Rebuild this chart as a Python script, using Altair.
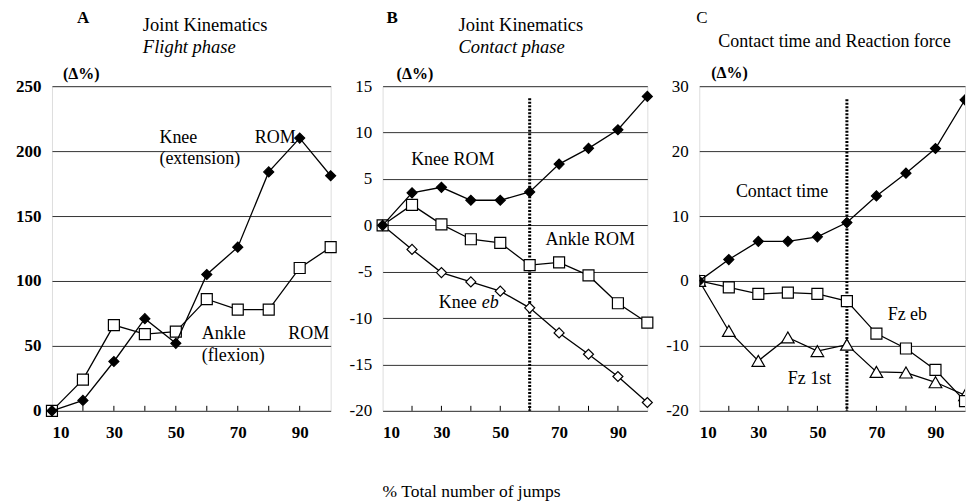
import altair as alt
import pandas as pd

FONT = "Liberation Serif"

# ---------------- data ----------------
jumps = [10, 20, 30, 40, 50, 60, 70, 80, 90, 100]

a_knee_rom = [0, 8, 38, 71, 52, 105, 126, 184, 210, 181]
a_ankle_rom = [0, 24, 66, 59, 61, 86, 78, 78, 110, 126]

b_knee_rom = [0, 3.5, 4.1, 2.7, 2.7, 3.6, 6.6, 8.3, 10.3, 13.9]
b_ankle_rom = [0, 2.2, 0.1, -1.5, -1.9, -4.3, -4.0, -5.4, -8.4, -10.5]
b_knee_eb = [0, -2.6, -5.1, -6.1, -7.1, -8.9, -11.6, -13.9, -16.3, -19.1]

c_contact = [0, 3.3, 6.1, 6.1, 6.8, 9.0, 13.1, 16.6, 20.4, 27.9]
c_fz_eb = [0, -1.0, -2.0, -1.8, -2.0, -3.1, -8.1, -10.4, -13.7, -18.5]
c_fz_1st = [0, -7.7, -12.3, -8.7, -10.8, -9.8, -14.0, -14.1, -15.6, -17.6]

x_labels = [10, 30, 50, 70, 90]
x_minor = [20, 30, 40, 50, 60, 70, 80, 90]

a_yticks = [0, 50, 100, 150, 200, 250]
b_yticks = [-20, -15, -10, -5, 0, 5, 10, 15]
c_yticks = [-20, -10, 0, 10, 20, 30]

H = 325


def encodings(ydom, yticks, bold):
    x = alt.X("x:Q", scale=alt.Scale(domain=[10, 100], nice=False, zero=False),
              axis=alt.Axis(values=x_labels, grid=False, ticks=False, domain=False,
                            labelPadding=14, labelFontSize=17, labelFont=FONT,
                            labelFontWeight="bold", labelColor="black", title=None))
    y = alt.Y("y:Q", scale=alt.Scale(domain=ydom, nice=False, zero=False),
              axis=alt.Axis(values=yticks, grid=True, ticks=False, domain=False,
                            gridColor="#333333", gridWidth=1, gridOpacity=1,
                            labelPadding=11, labelFontSize=17, labelFont=FONT,
                            labelExpr="'' + datum.value",
                            labelFontWeight="bold" if bold else "normal",
                            labelColor="black", title=None))
    return x, y


def series(values, shape, filled, size, ydom, yticks, bold, clip=False):
    df = pd.DataFrame({"x": jumps, "y": values})
    x, y = encodings(ydom, yticks, bold)
    base = alt.Chart(df).encode(x=x, y=y)
    line = base.mark_line(color="black", strokeWidth=1.3, clip=clip)
    pts = base.mark_point(shape=shape, size=size, filled=True, clip=clip,
                          fill="black" if filled else "white",
                          stroke="black", strokeWidth=1.2, opacity=1)
    return [line, pts]


def minor_ticks(ydom, yticks, bold):
    x, y = encodings(ydom, yticks, bold)
    return alt.Chart(pd.DataFrame({"x": x_minor})).mark_rule(
        color="black", strokeWidth=1).encode(
        x=x, y=alt.value(H), y2=alt.value(H - 5))


def label(text, px, py, size=18, weight="normal", style="normal"):
    return alt.Chart(pd.DataFrame({"k": [0]})).mark_text(
        text=text, font=FONT, fontSize=size, fontWeight=weight, fontStyle=style,
        align="left", baseline="middle", color="black").encode(
        x=alt.value(px), y=alt.value(py))


def note(text, xv, yv, ydom, yticks, bold, dx=0, style="normal"):
    x, y = encodings(ydom, yticks, bold)
    return alt.Chart(pd.DataFrame({"x": [xv], "y": [yv]})).mark_text(
        text=text, font=FONT, fontSize=18, fontStyle=style, dx=dx,
        align="left", baseline="middle", color="black").encode(x=x, y=y)


def phase_rule(top, ydom, yticks, bold):
    x, y = encodings(ydom, yticks, bold)
    return alt.Chart(pd.DataFrame({"x": [60], "y": [top], "y2": [ydom[0]]})).mark_rule(
        color="black", strokeWidth=3, strokeDash=[2, 1.5]).encode(
        x=x, y=y, y2="y2:Q")


# ---------------- Panel A ----------------
ad, at, ab = [0, 250], a_yticks, True
panel_a = alt.layer(
    minor_ticks(ad, at, ab),
    *series(a_ankle_rom, "square", False, 121, ad, at, ab),
    *series(a_knee_rom, "diamond", True, 100, ad, at, ab),
    note("Knee", 44.7, 210, ad, at, ab),
    note("ROM", 75.5, 210, ad, at, ab),
    note("(extension)", 44.7, 194, ad, at, ab),
    note("Ankle", 58.4, 59, ad, at, ab),
    note("ROM", 86.3, 59, ad, at, ab),
    note("(flexion)", 58.4, 42, ad, at, ab),
    label("A", 25, -68, 17, "bold"),
    label("Joint Kinematics", 91, -61, 18.5),
    label("Flight phase", 91, -39, 18.5, style="italic"),
    label("(Δ%)", 11, -12, 16, "bold"),
).properties(width=279, height=H)

# ---------------- Panel B ----------------
bd, bt, bb = [-20, 15], b_yticks, False
panel_b = alt.layer(
    minor_ticks(bd, bt, bb),
    phase_rule(13.7, bd, bt, bb),
    *series(b_knee_eb, "diamond", False, 100, bd, bt, bb),
    *series(b_ankle_rom, "square", False, 121, bd, bt, bb),
    *series(b_knee_rom, "diamond", True, 100, bd, bt, bb),
    note("Knee ROM", 19.7, 7.0, bd, bt, bb),
    note("Ankle ROM", 65.4, -1.6, bd, bt, bb),
    note("Knee", 29.1, -8.4, bd, bt, bb),
    note("eb", 29.1, -8.4, bd, bt, bb, dx=43, style="italic"),
    label("B", 4, -68, 17, "bold"),
    label("Joint Kinematics", 76, -61, 18.5),
    label("Contact phase", 76, -39, 18.5, style="italic"),
    label("(Δ%)", 14, -12, 16, "bold"),
    label("% Total number of jumps", 0, 406, 17.5),
).properties(width=265, height=H)

# ---------------- Panel C ----------------
cd, ct, cb = [-20, 30], c_yticks, False
panel_c = alt.layer(
    minor_ticks(cd, ct, cb),
    phase_rule(28.0, cd, ct, cb),
    *series(c_fz_1st, "triangle-up", False, 160, cd, ct, cb, clip=True),
    *series(c_fz_eb, "square", False, 121, cd, ct, cb, clip=True),
    *series(c_contact, "diamond", True, 100, cd, ct, cb, clip=True),
    note("Contact time", 22.4, 13.7, cd, ct, cb),
    note("Fz eb", 73.8, -5.2, cd, ct, cb),
    note("Fz 1st", 40, -15.1, cd, ct, cb),
    label("C", -3, -68, 17, "normal"),
    label("Contact time and Reaction force", 19, -44, 18),
    label("(Δ%)", 12, -13, 16, "bold"),
).properties(width=266, height=H)

chart = alt.hconcat(panel_a, panel_b, panel_c, spacing=52).properties(
    bounds="flush",
    padding={"left": 7, "top": 0, "right": 0, "bottom": 0},
).configure_view(stroke="black", strokeWidth=1.2).configure_axis(
    labelFont=FONT).configure(background="white")

chart.save("out.html", embed_options={"renderer": "svg", "actions": False})
